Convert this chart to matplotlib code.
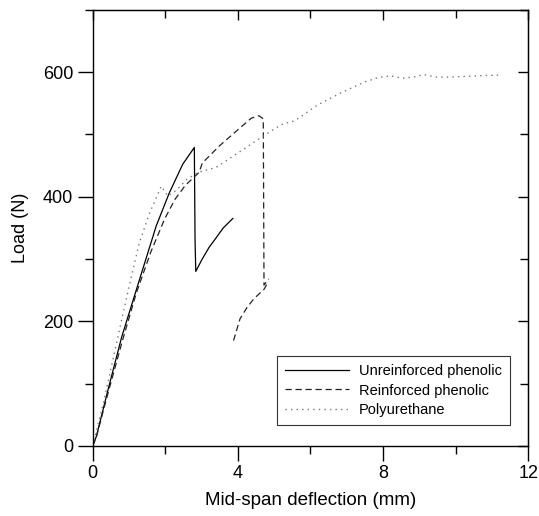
import numpy as np
import matplotlib
matplotlib.use("Agg")
import matplotlib.pyplot as plt
from matplotlib.ticker import MultipleLocator

plt.rcParams['font.family'] = ['Liberation Sans', 'DejaVu Sans']

# Unreinforced phenolic (solid): loading, drop, reload
unrein_x = [0.0, 0.1, 0.4, 0.8, 1.29, 1.75, 2.11, 2.48, 2.80, 2.82, 2.84, 3.0, 3.2, 3.4, 3.6, 3.86]
unrein_y = [0, 15, 85, 175, 267, 353, 406, 452, 479, 330, 280, 298, 318, 334, 350, 365]

# Reinforced phenolic (dashed): loading to peak, drop; separate reload piece
rein_x = [0.0, 0.1, 0.4, 0.8, 1.2, 1.6, 1.98, 2.27, 2.55, 2.93, 3.02, 3.5, 4.09, 4.37, 4.58, 4.70, 4.72, 4.85,
          np.nan, 3.88, 4.06, 4.25, 4.44, 4.73, 4.82]
rein_y = [0, 14, 80, 165, 245, 311, 364, 396, 418, 439, 454, 482, 512, 526, 530, 525, 258, 268,
          np.nan, 169, 204, 222, 236, 252, 262]

# Polyurethane (dotted)
poly_x = [0.0, 0.3, 0.6, 0.93, 1.11, 1.29, 1.57, 1.89, 2.07, 2.3, 2.6, 2.9, 3.4, 3.97, 4.72, 4.93, 5.21,
          5.57, 5.92, 6.19, 6.85, 7.49, 7.85, 8.21, 8.53, 8.83, 9.11, 9.47, 9.85, 10.58, 11.08, 11.25]
poly_y = [0, 70, 150, 237, 283, 327, 374, 417, 401, 410, 428, 439, 447, 469, 498, 506, 516,
          522, 536, 547, 567, 584, 591, 594, 590, 592, 596, 592, 592, 594, 595, 595]

fig = plt.figure(figsize=(5.39, 5.16), dpi=100)
ax = fig.add_axes([0.172, 0.136, 0.808, 0.845])

ax.plot(unrein_x, unrein_y, color='black', linewidth=0.9, label='Unreinforced phenolic')
ax.plot(rein_x, rein_y, color='#222222', linewidth=0.9, linestyle=(0, (5, 3)), label='Reinforced phenolic')
ax.plot(poly_x, poly_y, color='#777777', linewidth=1.0, linestyle=(0, (1, 3)), label='Polyurethane')

ax.set_xlim(0, 12)
ax.set_ylim(0, 700)
ax.xaxis.set_major_locator(MultipleLocator(4))
ax.xaxis.set_minor_locator(MultipleLocator(2))
ax.yaxis.set_major_locator(MultipleLocator(200))
ax.yaxis.set_minor_locator(MultipleLocator(100))

ax.tick_params(which='both', direction='out', top=False, right=False, labelsize=13, width=1.0)
ax.tick_params(which='major', length=11, pad=3)
ax.tick_params(which='minor', length=6)

# inward ticks on the top and right edges
for side_ax in (ax.secondary_xaxis('top'), ax.secondary_yaxis('right')):
    side_ax.tick_params(which='both', direction='in', width=1.0, labelsize=0)
    side_ax.tick_params(which='major', length=7)
    side_ax.tick_params(which='minor', length=6)
sx = ax.child_axes[0]
sx.xaxis.set_major_locator(MultipleLocator(4))
sx.xaxis.set_minor_locator(MultipleLocator(2))
sx.set_xticklabels([])
sy = ax.child_axes[1]
sy.yaxis.set_major_locator(MultipleLocator(200))
sy.yaxis.set_minor_locator(MultipleLocator(100))
sy.set_yticklabels([])

for s in ax.spines.values():
    s.set_linewidth(1.0)

ax.set_xlabel('Mid-span deflection (mm)', fontsize=13.5, labelpad=7)
ax.set_ylabel('Load (N)', fontsize=13, labelpad=10)

leg = ax.legend(loc='lower right', bbox_to_anchor=(0.975, 0.03), fontsize=10.5, frameon=True, fancybox=False,
                edgecolor='black', handlelength=4.4, handletextpad=0.7, borderpad=0.55, labelspacing=0.4)
leg.get_frame().set_linewidth(0.8)

plt.savefig("out.png", dpi=100)
